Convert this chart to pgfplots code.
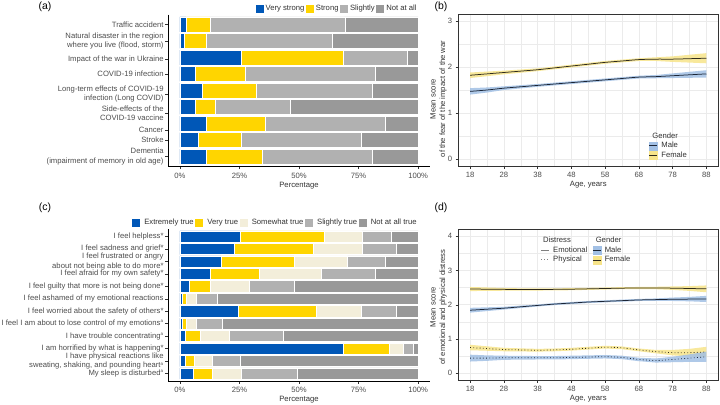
\documentclass[border=0pt]{standalone}
\usepackage{fontspec}
\setmainfont{Liberation Sans}
\usepackage{pgfplots}
\usepackage{pgfplotstable}
\pgfplotsset{compat=1.18}
\definecolor{ublue}{HTML}{0057B7}
\definecolor{uyel}{HTML}{FFD500}
\definecolor{lgray}{HTML}{B1B1B1}
\definecolor{dgray}{HTML}{999999}
\definecolor{beige}{HTML}{F3EEDA}
\definecolor{bandb}{HTML}{A2C0E5}
\definecolor{bandy}{HTML}{F7E48A}
\definecolor{g30}{HTML}{4D4D4D}
\definecolor{g20}{HTML}{333333}
\definecolor{g92}{HTML}{EBEBEB}
\definecolor{mline}{HTML}{1B2536}
\definecolor{fline}{HTML}{2E2A1C}
\newcommand\lab{\fontsize{7.7}{9.6}\selectfont}
\newcommand\sa{\textsuperscript{\fontsize{4.5}{5}\selectfont a}}

\pgfplotstableread{
x y
18 1.47
23 1.50
28 1.54
33 1.57
38 1.60
43 1.63
48 1.66
53 1.69
58 1.72
63 1.75
68 1.78
73 1.79
78 1.81
83 1.83
88 1.85
}\bM
\pgfplotstableread{
x y
18 1.82
23 1.85
28 1.88
33 1.91
38 1.94
43 1.98
48 2.02
53 2.06
58 2.10
63 2.13
68 2.16
73 2.17
78 2.17
83 2.18
88 2.19
}\bF
\pgfplotstableread{
x y
18 2.46
23 2.455
28 2.45
33 2.445
38 2.445
43 2.45
48 2.455
53 2.465
58 2.475
63 2.485
68 2.49
73 2.49
78 2.485
83 2.475
88 2.465
}\dFE
\pgfplotstableread{
x y
18 1.84
23 1.87
28 1.90
33 1.94
38 1.98
43 2.02
48 2.05
53 2.08
58 2.10
63 2.12
68 2.14
73 2.15
78 2.16
83 2.165
88 2.17
}\dME
\pgfplotstableread{
x y
18 0.75
23 0.72
28 0.69
33 0.68
38 0.67
43 0.68
48 0.70
53 0.73
58 0.76
63 0.74
68 0.68
73 0.63
78 0.60
83 0.60
88 0.62
}\dFP
\pgfplotstableread{
x y
18 0.44
23 0.44
28 0.45
33 0.45
38 0.45
43 0.45
48 0.46
53 0.47
58 0.48
63 0.46
68 0.40
73 0.37
78 0.40
83 0.44
88 0.48
}\dMP

\pgfplotsset{
  barax/.style={
    scale only axis, width=262bp, height=152bp,
    xbar stacked, xmin=-5, xmax=105, y dir=reverse,
    axis x line*=bottom, axis y line*=left,
    xtick={0,25,50,75,100}, xticklabels={0\%,25\%,50\%,75\%,100\%},
    tick align=outside, major tick length=2.75bp,
    tick style={g20, line width=0.5bp},
    axis line style={black, line width=0.5bp},
    ticklabel style={font=\lab, text=g30},
    yticklabel style={align=right, inner sep=1.5bp},
    xlabel={Percentage}, xlabel style={font=\lab, text=g20, yshift=3bp},
    every axis plot/.append style={draw=white, line width=0.5bp},
    legend columns=-1,
    legend image code/.code={\fill[##1,draw=none] (0bp,-4bp) rectangle (8bp,4bp);},
    legend style={draw=none, fill=none, font=\lab, text=g20, inner sep=0pt,
      nodes={inner sep=1.2bp},
      /tikz/every even column/.append style={column sep=0.3bp}},
  },
  lineax/.style={
    scale only axis, width=260bp,
    xmin=14.5, xmax=91.5,
    xtick={18,28,...,88}, minor xtick={23,33,...,83},
    grid=both, major grid style={g92, line width=0.6bp},
    minor grid style={g92, line width=0.35bp},
    tick pos=left, tick align=outside, major tick length=2.75bp, minor tick length=0pt,
    tick style={g20, line width=0.5bp},
    axis line style={g20, line width=0.6bp},
    ticklabel style={font=\lab, text=g30},
    /pgf/number format/assume math mode=true,
    xlabel={Age, years}, xlabel style={font=\lab, text=g20, yshift=3bp},
    legend cell align=left,
    legend style={draw=none, fill=none, font=\lab, text=g20, inner sep=0pt,
      nodes={inner sep=1.2bp},
      /tikz/every odd column/.append style={column sep=2.5bp}},
  },
  maleband/.style={legend image code/.code={\fill[bandb] (0bp,-4bp) rectangle (8bp,4bp); \draw[mline, line width=0.6bp] (0bp,0bp)--(8bp,0bp);}},
  femband/.style={legend image code/.code={\fill[bandy] (0bp,-4bp) rectangle (8bp,4bp); \draw[fline, line width=0.6bp] (0bp,0bp)--(8bp,0bp);}},
}

\begin{document}
\begin{tikzpicture}
\fill[white] (0bp,0bp) rectangle (720bp,405bp);
\path[use as bounding box] (0bp,0bp) rectangle (720bp,405bp);

% ---------------- (a)
\begin{axis}[barax, at={(168bp,238.5bp)}, anchor=south west,
  ymin=0.4, ymax=9.6, bar width=14.85bp,
  ytick={1,2,3.1,4,5.22,6.38,7.4,8,9},
  yticklabels={Traffic accident, {Natural disaster in the region\\where you live (flood, storm)}, Impact of the war in Ukraine, COVID-19 infection, {Long-term effects of COVID-19\\infection (Long COVID)}, {Side-effects of the\\COVID-19 vaccine}, Cancer, Stroke, {Dementia\\(impairment of memory in old age)}},
  legend style={at={(0.954,1)}, anchor=south east, yshift=1bp,
    /tikz/every odd column/.append style={column sep=0.8bp}},
]
\addplot[fill=ublue] coordinates {(2.5,1) (1.8,2) (25.7,3) (6.5,4) (9.4,5) (6.5,6) (11.2,7) (7.7,8) (11.2,9)};
\addplot[fill=uyel] coordinates {(10.1,1) (9.1,2) (42.7,3) (21.1,4) (22.7,5) (8.4,6) (24.7,7) (18.2,8) (23.3,9)};
\addplot[fill=lgray] coordinates {(56.7,1) (53.2,2) (27.0,3) (54.4,4) (48.5,5) (31.5,6) (50.4,7) (50.1,8) (46.4,9)};
\addplot[fill=dgray] coordinates {(30.7,1) (35.9,2) (4.6,3) (18.0,4) (19.4,5) (53.6,6) (13.7,7) (24.0,8) (19.1,9)};
\legend{Very strong, Strong, Slightly, Not at all}
\end{axis}

% ---------------- (c)
\begin{axis}[barax, at={(168bp,24bp)}, anchor=south west,
  ymin=0.4, ymax=12.6, bar width=11.2bp,
  ytick={1,...,12},
  yticklabels={I feel helpless*, I feel sadness and grief*, {I feel frustrated or angry\\about not being able to do more*}, I feel afraid for my own safety*, I feel guilty that more is not being done*, I feel ashamed of my emotional reactions, I feel worried about the safety of others*, I feel I am about to lose control of my emotions\sa, I have trouble concentrating\sa, I am horrified by what is happening*, {I have physical reactions like\\sweating, shaking, and pounding heart\sa}, My sleep is disturbed\sa},
  legend style={at={(0.954,1)}, anchor=south east, yshift=1.5bp,
    /tikz/every odd column/.append style={column sep=3bp}},
]
\addplot[fill=ublue] coordinates {(25.4,1) (22.7,2) (17.3,3) (12.9,4) (3.9,5) (0.8,6) (24.4,7) (0.8,8) (2.1,9) (68.4,10) (2.1,11) (5.6,12)};
\addplot[fill=uyel] coordinates {(35.0,1) (33.1,2) (30.5,3) (20.3,4) (9.0,5) (2.0,6) (32.8,7) (2.0,8) (6.5,9) (19.7,10) (3.8,11) (7.9,12)};
\addplot[fill=beige] coordinates {(16.0,1) (20.6,2) (22.6,3) (26.3,4) (16.3,5) (4.2,6) (18.8,7) (4.2,8) (12.2,9) (5.7,10) (7.7,11) (12.4,12)};
\addplot[fill=lgray] coordinates {(12.2,1) (14.5,2) (15.9,3) (22.7,4) (18.6,5) (8.8,6) (14.9,7) (10.7,8) (22.5,9) (4.1,10) (11.9,11) (23.2,12)};
\addplot[fill=dgray] coordinates {(11.4,1) (9.1,2) (13.7,3) (17.8,4) (52.2,5) (84.2,6) (9.1,7) (82.3,8) (56.7,9) (2.1,10) (74.5,11) (50.9,12)};
\legend{Extremely true, Very true, Somewhat true, Slightly true, Not at all true}
\end{axis}

% ---------------- (b)
\begin{axis}[lineax, at={(458.3bp,239bp)}, anchor=south west, height=152bp,
  ymin=-0.15, ymax=3.15, ytick={0,1,2,3}, minor ytick={0.5,1.5,2.5},
  legend style={at={(0.733,0.228)}, anchor=north west},
]
\addplot[draw=none, fill=bandb, fill opacity=0.85, forget plot] coordinates {(18,1.40)(23,1.445)(28,1.50)(33,1.535)(38,1.57)(43,1.60)(48,1.63)(53,1.66)(58,1.69)(63,1.72)(68,1.75)(73,1.755)(78,1.76)(83,1.765)(88,1.77)(88,1.93)(83,1.895)(78,1.86)(73,1.825)(68,1.81)(63,1.78)(58,1.75)(53,1.72)(48,1.69)(43,1.66)(38,1.63)(33,1.605)(28,1.58)(23,1.555)(18,1.54)} -- cycle;
\addplot[draw=none, fill=bandy, fill opacity=0.85, forget plot] coordinates {(18,1.76)(23,1.80)(28,1.84)(33,1.875)(38,1.91)(43,1.95)(48,1.99)(53,2.03)(58,2.07)(63,2.10)(68,2.13)(73,2.13)(78,2.11)(83,2.095)(88,2.08)(88,2.30)(83,2.265)(78,2.23)(73,2.21)(68,2.19)(63,2.16)(58,2.13)(53,2.09)(48,2.05)(43,2.01)(38,1.97)(33,1.945)(28,1.92)(23,1.90)(18,1.88)} -- cycle;
\addplot[mline, line width=0.75bp, smooth, forget plot] table[x=x,y=y]{\bM};
\addplot[fline, line width=0.75bp, smooth, forget plot] table[x=x,y=y]{\bF};
\addlegendimage{empty legend}\addlegendentry{\hspace{-9bp}Gender}
\addlegendimage{maleband}\addlegendentry{Male}
\addlegendimage{femband}\addlegendentry{Female}
\end{axis}

% ---------------- (d)
\begin{axis}[lineax, at={(458.3bp,25bp)}, anchor=south west, height=150.5bp,
  ymin=-0.2, ymax=4.2, ytick={0,1,2,3,4}, minor ytick={0.5,1.5,2.5,3.5},
  legend columns=2,
  legend style={at={(0.316,0.957)}, anchor=north west,
    /tikz/every even column/.append style={column sep=4bp}},
]
\addplot[draw=none, fill=bandy, fill opacity=0.85, forget plot] coordinates {(18,2.40)(23,2.405)(28,2.41)(33,2.41)(38,2.415)(43,2.42)(48,2.425)(53,2.435)(58,2.445)(63,2.455)(68,2.46)(73,2.455)(78,2.435)(83,2.405)(88,2.365)(88,2.565)(83,2.545)(78,2.535)(73,2.525)(68,2.52)(63,2.515)(58,2.505)(53,2.495)(48,2.485)(43,2.48)(38,2.475)(33,2.48)(28,2.49)(23,2.505)(18,2.52)} -- cycle;
\addplot[draw=none, fill=bandb, fill opacity=0.85, forget plot] coordinates {(18,1.77)(23,1.815)(28,1.86)(33,1.905)(38,1.95)(43,1.99)(48,2.02)(53,2.05)(58,2.07)(63,2.09)(68,2.11)(73,2.115)(78,2.11)(83,2.10)(88,2.08)(88,2.26)(83,2.23)(78,2.21)(73,2.185)(68,2.17)(63,2.15)(58,2.13)(53,2.11)(48,2.08)(43,2.05)(38,2.01)(33,1.975)(28,1.94)(23,1.925)(18,1.91)} -- cycle;
\addplot[draw=none, fill=bandy, fill opacity=0.85, forget plot] coordinates {(18,0.67)(23,0.655)(28,0.64)(33,0.635)(38,0.63)(43,0.64)(48,0.66)(53,0.69)(58,0.72)(63,0.70)(68,0.64)(73,0.58)(78,0.52)(83,0.49)(88,0.47)(88,0.77)(83,0.71)(78,0.68)(73,0.68)(68,0.72)(63,0.78)(58,0.80)(53,0.77)(48,0.74)(43,0.72)(38,0.71)(33,0.725)(28,0.74)(23,0.785)(18,0.83)} -- cycle;
\addplot[draw=none, fill=bandb, fill opacity=0.85, forget plot] coordinates {(18,0.34)(23,0.36)(28,0.39)(33,0.395)(38,0.40)(43,0.40)(48,0.41)(53,0.42)(58,0.43)(63,0.41)(68,0.35)(73,0.31)(78,0.32)(83,0.33)(88,0.33)(88,0.63)(83,0.55)(78,0.48)(73,0.43)(68,0.45)(63,0.51)(58,0.53)(53,0.52)(48,0.51)(43,0.50)(38,0.50)(33,0.505)(28,0.51)(23,0.52)(18,0.54)} -- cycle;
\addplot[fline, line width=0.75bp, smooth, forget plot] table[x=x,y=y]{\dFE};
\addplot[mline, line width=0.75bp, smooth, forget plot] table[x=x,y=y]{\dME};
\addplot[fline, line width=0.8bp, smooth, dash pattern=on 0.8bp off 2.4bp, forget plot] table[x=x,y=y]{\dFP};
\addplot[mline, line width=0.8bp, smooth, dash pattern=on 0.8bp off 2.4bp, forget plot] table[x=x,y=y]{\dMP};
\addlegendimage{empty legend}\addlegendentry{\hspace{-10bp}Distress}
\addlegendimage{empty legend}\addlegendentry{\hspace{-9bp}Gender}
\addlegendimage{legend image code/.code={\draw[gray, line width=0.6bp] (0bp,0bp)--(8bp,0bp);}}\addlegendentry{Emotional}
\addlegendimage{maleband}\addlegendentry{Male}
\addlegendimage{legend image code/.code={\draw[gray, line width=0.8bp, dash pattern=on 0.8bp off 2.4bp] (0bp,0bp)--(8bp,0bp);}}\addlegendentry{Physical}
\addlegendimage{femband}\addlegendentry{Female}
\end{axis}

% axis titles and panel letters
\node[rotate=90, align=center, font=\lab, text=g20] at (438.5bp,306bp) {Mean score\\of the fear of the impact of the war};
\node[rotate=90, align=center, font=\lab, text=g20] at (438.5bp,98bp) {Mean score\\of emotional and physical distress};
\node[font=\fontsize{10.5}{12}\selectfont, text=black] at (45bp,398bp) {(a)};
\node[font=\fontsize{10.5}{12}\selectfont, text=black] at (441bp,398bp) {(b)};
\node[font=\fontsize{10.5}{12}\selectfont, text=black] at (45bp,197bp) {(c)};
\node[font=\fontsize{10.5}{12}\selectfont, text=black] at (441bp,197bp) {(d)};
\end{tikzpicture}
\end{document}
